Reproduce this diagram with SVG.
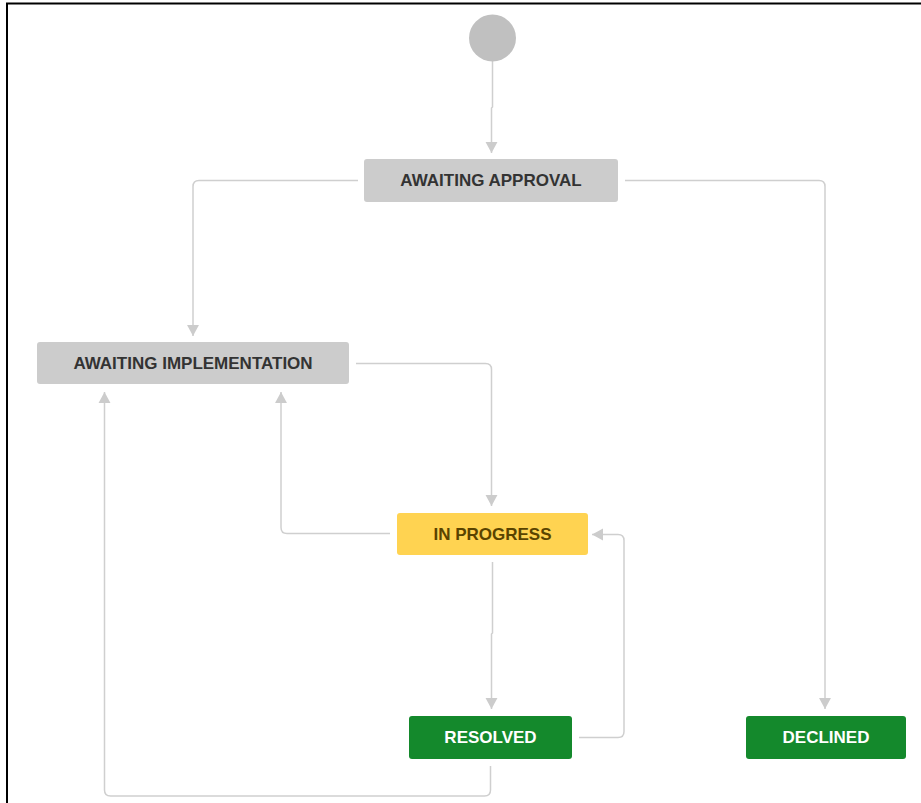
<svg xmlns="http://www.w3.org/2000/svg" width="921" height="803" viewBox="0 0 921 803">
<style>
.conn{fill:none;stroke:#cfcfcf;stroke-width:1.5;marker-end:url(#ah)}
.lbl{font-family:"Liberation Sans",Arial,sans-serif;font-weight:bold;font-size:17px;text-anchor:middle;dominant-baseline:central}
.grey rect{fill:#cccccc}
.grey text{fill:#333333}
.yellow rect{fill:#ffd351}
.yellow text{fill:#594300}
.green rect{fill:#14892c}
.green text{fill:#ffffff}
</style>
<defs>
<marker id="ah" viewBox="0 0 12 13" refX="12" refY="6.5" markerWidth="11" markerHeight="13" markerUnits="userSpaceOnUse" orient="auto">
<path d="M0,0 L12,6.5 L0,13 Z" fill="#cccccc"/>
</marker>
</defs>
<rect width="921" height="803" fill="#ffffff"/>
<path d="M7,803 L7,3.5 L921,3.5" fill="none" stroke="#000000" stroke-width="2"/>
<g id="connectors">
<path class="conn" d="M492.5,61 L492.5,107 L491.5,108 L491.5,153"/>
<path class="conn" d="M358,180.5 L199,180.5 Q193,180.5 193,186.5 L193,336"/>
<path class="conn" d="M625,180.5 L819,180.5 Q825,180.5 825,186.5 L825,709"/>
<path class="conn" d="M356,363.5 L485.5,363.5 Q491.5,363.5 491.5,369.5 L491.5,506"/>
<path class="conn" d="M390,533.5 L287,533.5 Q281,533.5 281,527.5 L281,392"/>
<path class="conn" d="M492.5,562 L492.5,633 L491.5,634 L491.5,709"/>
<path class="conn" d="M579,737.5 L618,737.5 Q624,737.5 624,731.5 L624,540.5 Q624,534.5 618,534.5 L592,534.5"/>
<path class="conn" d="M490.5,766 L490.5,790 Q490.5,796 484.5,796 L110.5,796 Q104.5,796 104.5,790 L104.5,392"/>
</g>
<g id="start"><circle cx="492.5" cy="38" r="23.5" fill="#c0c0c0"/></g>
<g id="awaiting-approval" class="grey"><rect x="364" y="159" width="254" height="43" rx="3"/><text class="lbl" x="491" y="180.5">AWAITING APPROVAL</text></g>
<g id="awaiting-implementation" class="grey"><rect x="37" y="342" width="312" height="42" rx="3"/><text class="lbl" x="193" y="363">AWAITING IMPLEMENTATION</text></g>
<g id="in-progress" class="yellow"><rect x="397" y="513" width="191" height="42" rx="3"/><text class="lbl" x="492.5" y="534">IN PROGRESS</text></g>
<g id="resolved" class="green"><rect x="409" y="716" width="163" height="43" rx="3"/><text class="lbl" x="490.5" y="737.5">RESOLVED</text></g>
<g id="declined" class="green"><rect x="746" y="716" width="160" height="43" rx="3"/><text class="lbl" x="826" y="737.5">DECLINED</text></g>
</svg>
